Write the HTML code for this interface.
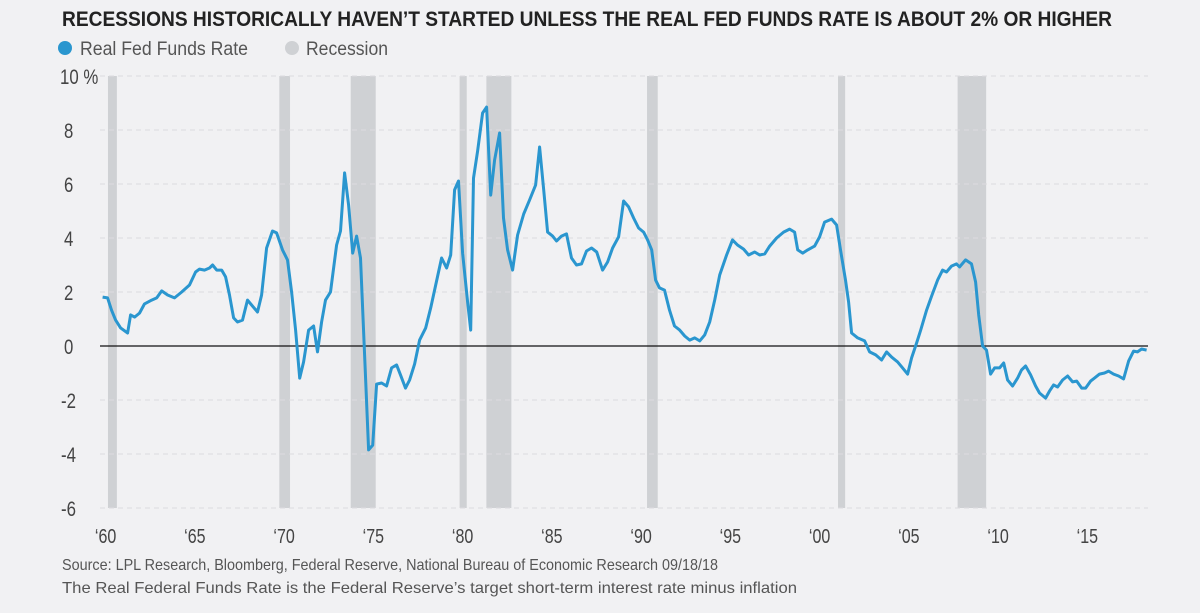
<!DOCTYPE html>
<html><head><meta charset="utf-8"><style>
html,body{margin:0;padding:0;background:#f1f1f3;}
svg{display:block;font-family:"Liberation Sans Narrow","Liberation Sans",sans-serif;}
</style></head><body>
<svg id="chart" width="1200" height="613" viewBox="0 0 1200 613">
<rect width="1200" height="613" fill="#f1f1f3"/>
<text x="62" y="26" font-size="21" font-weight="bold" fill="#222" textLength="1050" lengthAdjust="spacingAndGlyphs">RECESSIONS HISTORICALLY HAVEN’T STARTED UNLESS THE REAL FED FUNDS RATE IS ABOUT 2% OR HIGHER</text>
<g>
<circle cx="65" cy="48" r="7" fill="#2a96cf"/>
<text x="80" y="55" font-size="19" fill="#555" textLength="168" lengthAdjust="spacingAndGlyphs">Real Fed Funds Rate</text>
<circle cx="292" cy="48" r="7" fill="#cfd1d4"/>
<text x="306" y="55" font-size="19" fill="#555" textLength="82" lengthAdjust="spacingAndGlyphs">Recession</text>
</g>
<g id="rec"></g>
<g id="grid"></g>
<g id="yax"></g>
<g id="xax"></g>
<g id="series"></g>
<text x="62" y="570" font-size="16" fill="#555" textLength="656" lengthAdjust="spacingAndGlyphs">Source: LPL Research, Bloomberg, Federal Reserve, National Bureau of Economic Research   09/18/18</text>
<text x="62" y="593" font-size="16" fill="#555" textLength="735" lengthAdjust="spacingAndGlyphs">The Real Federal Funds Rate is the Federal Reserve’s target short-term interest rate minus inflation</text>
</svg>
<script>
const yTicks=[10,8,6,4,2,0,-2,-4,-6];
const yTickLabels=["10 %","8","6","4","2","0","-2","-4","-6"];
const xTicks=[1960,1965,1970,1975,1980,1985,1990,1995,2000,2005,2010,2015];
const xTickLabels=["‘60","‘65","‘70","‘75","‘80","‘85","‘90","‘95","‘00","‘05","‘10","‘15"];
const recStart=[1960.3,1969.9,1973.9,1980.0,1981.5,1990.5,2001.2,2007.9];
const recEnd=[1960.8,1970.5,1975.3,1980.4,1982.9,1991.1,2001.6,2009.5];
const years=[1960.0,1960.28,1960.5,1960.73,1961.01,1961.4,1961.57,1961.79,1962.07,1962.35,1962.75,1963.03,1963.31,1963.64,1964.03,1964.43,1964.87,1965.21,1965.43,1965.71,1965.99,1966.16,1966.39,1966.67,1966.89,1967.11,1967.34,1967.56,1967.84,1968.12,1968.35,1968.68,1968.91,1969.19,1969.52,1969.75,1970.08,1970.36,1970.59,1970.81,1971.04,1971.26,1971.54,1971.82,1972.04,1972.27,1972.49,1972.77,1973.11,1973.33,1973.56,1973.78,1974.01,1974.23,1974.45,1974.68,1974.9,1975.13,1975.35,1975.63,1975.91,1976.19,1976.47,1976.69,1976.97,1977.2,1977.48,1977.76,1978.1,1978.38,1978.66,1978.99,1979.27,1979.5,1979.72,1979.94,1980.17,1980.45,1980.62,1980.78,1981.01,1981.29,1981.51,1981.74,1981.96,1982.24,1982.46,1982.69,1982.97,1983.25,1983.59,1983.92,1984.26,1984.48,1984.71,1984.93,1985.21,1985.43,1985.71,1985.99,1986.27,1986.55,1986.83,1987.11,1987.39,1987.68,1988.01,1988.29,1988.57,1988.91,1989.19,1989.47,1989.75,1990.03,1990.31,1990.53,1990.76,1990.98,1991.2,1991.48,1991.76,1992.04,1992.33,1992.61,1992.89,1993.17,1993.45,1993.73,1994.01,1994.29,1994.57,1994.96,1995.29,1995.57,1995.91,1996.19,1996.53,1996.81,1997.09,1997.37,1997.76,1998.15,1998.49,1998.77,1998.94,1999.22,1999.5,1999.89,2000.17,2000.45,2000.84,2001.12,2001.34,2001.62,2001.79,2001.96,2002.3,2002.69,2002.97,2003.31,2003.64,2003.92,2004.2,2004.54,2004.82,2005.1,2005.32,2005.6,2005.83,2006.16,2006.44,2006.78,2007.06,2007.28,2007.56,2007.84,2008.01,2008.35,2008.68,2008.91,2009.08,2009.3,2009.52,2009.75,2009.97,2010.25,2010.48,2010.7,2010.98,2011.26,2011.48,2011.71,2011.99,2012.27,2012.49,2012.83,2013.05,2013.28,2013.5,2013.78,2014.06,2014.34,2014.57,2014.85,2015.07,2015.35,2015.57,2015.85,2016.13,2016.36,2016.64,2016.92,2017.2,2017.48,2017.76,2017.98,2018.21,2018.49];
const rates=[1.81,1.78,1.33,0.96,0.67,0.48,1.15,1.07,1.22,1.56,1.70,1.78,2.04,1.89,1.78,2.0,2.26,2.74,2.85,2.81,2.89,3.0,2.81,2.81,2.56,1.89,1.04,0.89,0.96,1.70,1.52,1.26,1.89,3.63,4.26,4.19,3.56,3.19,2.0,0.59,-1.19,-0.59,0.59,0.74,-0.22,0.89,1.70,2.0,3.74,4.26,6.41,5.22,3.44,4.07,3.26,-0.33,-3.85,-3.67,-1.41,-1.37,-1.48,-0.81,-0.70,-1.07,-1.56,-1.26,-0.67,0.22,0.67,1.41,2.26,3.26,2.89,3.37,5.78,6.11,3.44,1.63,0.59,6.22,7.22,8.63,8.85,5.59,6.89,7.89,4.74,3.56,2.81,4.11,4.89,5.41,5.96,7.37,5.78,4.22,4.07,3.89,4.07,4.15,3.26,3.0,3.04,3.52,3.63,3.48,2.81,3.11,3.63,4.04,5.37,5.15,4.74,4.37,4.22,3.93,3.56,2.44,2.15,2.07,1.33,0.74,0.59,0.37,0.22,0.30,0.19,0.41,0.89,1.70,2.63,3.37,3.93,3.74,3.59,3.37,3.48,3.37,3.41,3.70,4.0,4.22,4.33,4.22,3.56,3.44,3.56,3.70,4.04,4.59,4.70,4.48,3.56,2.44,1.63,0.48,0.30,0.19,-0.22,-0.33,-0.52,-0.22,-0.41,-0.59,-0.81,-1.04,-0.44,0.11,0.59,1.33,1.85,2.44,2.81,2.74,2.96,3.04,2.93,3.19,3.04,2.37,1.15,0,-0.15,-1.04,-0.81,-0.81,-0.63,-1.26,-1.48,-1.19,-0.89,-0.74,-1.07,-1.48,-1.74,-1.93,-1.67,-1.44,-1.52,-1.26,-1.11,-1.33,-1.30,-1.56,-1.56,-1.30,-1.19,-1.04,-1.0,-0.93,-1.04,-1.11,-1.22,-0.56,-0.19,-0.22,-0.11,-0.15];

const NS="http://www.w3.org/2000/svg";
const X0=102.6,PX=17.85,L=100,R=1148;
function xs(y){return X0+(y-1960)*PX;}
function ys(v){return 346-v*27;}
function mk(tag,parent){const e=document.createElementNS(NS,tag);document.getElementById(parent).appendChild(e);return e;}
function narrow(t){const w=t.getComputedTextLength();t.setAttribute('textLength',(w*0.8).toFixed(1));t.setAttribute('lengthAdjust','spacingAndGlyphs');}

for(let i=0;i<recStart.length;i++){
  const r=mk('rect','rec');
  
  
  r.setAttribute('x',xs(recStart[i]));r.setAttribute('width',xs(recEnd[i])-xs(recStart[i]));
  r.setAttribute('y',ys(10));r.setAttribute('height',ys(-6)-ys(10));r.setAttribute('fill','#cfd1d4');
}
for(let i=0;i<yTicks.length;i++){
  const v=yTicks[i];
  if(v!==0){
    const g=mk('line','grid');
    
    
    g.setAttribute('x1',L);g.setAttribute('x2',R);g.setAttribute('y1',ys(v));g.setAttribute('y2',ys(v));
    g.setAttribute('stroke','#dcdcdf');g.setAttribute('stroke-dasharray','5,4');g.setAttribute('stroke-width','1');
  }
  const t=mk('text','yax');
  
  
  t.setAttribute('x',v<0?61:(v===10?60:64));t.setAttribute('y',ys(v)+8);
  t.setAttribute('font-size','21');t.setAttribute('fill','#444');t.textContent=yTickLabels[i];
  narrow(t);
}
for(let i=0;i<xTicks.length;i++){
  const t=mk('text','xax');
  
  
  t.setAttribute('x',xs(xTicks[i])+3);t.setAttribute('y',543);t.setAttribute('text-anchor','middle');
  t.setAttribute('font-size','20');t.setAttribute('fill','#444');t.textContent=xTickLabels[i];
  narrow(t);
}
const zl=mk('line','series');


zl.setAttribute('x1',L);zl.setAttribute('x2',R);zl.setAttribute('y1',ys(0));zl.setAttribute('y2',ys(0));
zl.setAttribute('stroke','#111');zl.setAttribute('stroke-width','1.3');
const p=mk('path','series');


let d='';
for(let i=0;i<years.length;i++){d+=(i?'L':'M')+xs(years[i]).toFixed(1)+','+ys(rates[i]).toFixed(1);}
p.setAttribute('d',d);p.setAttribute('fill','none');p.setAttribute('stroke','#2a96cf');
p.setAttribute('stroke-width','3');p.setAttribute('stroke-linejoin','round');
</script>
</body></html>
